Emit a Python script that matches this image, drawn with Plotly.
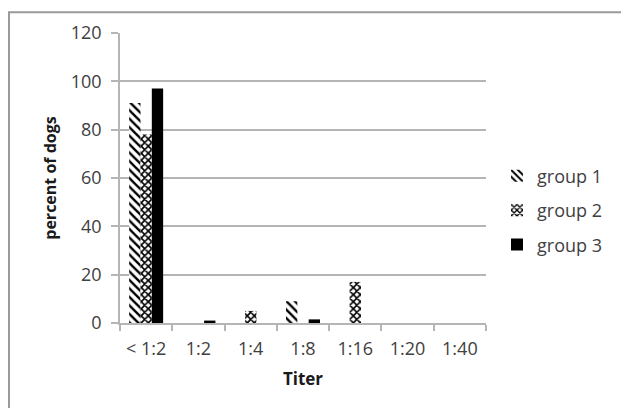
import plotly.graph_objects as go

categories = ["< 1:2", "1:2", "1:4", "1:8", "1:16", "1:20", "1:40"]
group1 = [91, 0, 0, 9, 0, 0, 0]
group2 = [78, 0, 5, 0, 17, 0, 0]
group3 = [97, 1, 0, 1.5, 0, 0, 0]
y_ticks = [0, 20, 40, 60, 80, 100, 120]

OFF = 8  # page body margin
W, H = 629 - OFF, 408 - OFF
# desired page-pixel positions of plot area
PL, PR, PT, PB = 120, 486, 29, 323
L, T = PL - OFF, PT - OFF
R, B = W - (PR - OFF), H - (PB - OFF)
pw, ph = W - L - R, H - T - B

def px2x(px):
    return (px - OFF - L) / pw

def py2y(py):
    return (H - B - (py - OFF)) / ph

FONT = "Open Sans"
fig = go.Figure()
fig.add_trace(go.Bar(
    x=categories, y=group1, name="group 1", legendgroup="g1",
    marker=dict(color="white", line=dict(width=0),
                pattern=dict(shape="\\", fgcolor="#000000", bgcolor="white",
                             fgopacity=1, size=6, solidity=0.4)),
))
fig.add_trace(go.Bar(
    x=categories, y=group2, name="group 2", legendgroup="g2",
    marker=dict(color="white", line=dict(width=0),
                pattern=dict(shape="x", fgcolor="#000000", bgcolor="white",
                             fgopacity=1, size=5, solidity=0.55)),
))
fig.add_trace(go.Bar(
    x=categories, y=group3, name="group 3", legendgroup="g3",
    marker=dict(color="black", line=dict(width=0)),
))

axis_gray = "#b5b5b5"
fig.update_layout(
    width=W, height=H,
    margin=dict(l=L, r=R, t=T, b=B, pad=0),
    paper_bgcolor="white", plot_bgcolor="white",
    barmode="group", bargap=0.35, bargroupgap=0,
    font=dict(family=FONT, size=18, color="#404040"),
    legend=dict(x=px2x(497), xanchor="left", y=py2y(209), yanchor="middle",
                font=dict(family=FONT, size=18, color="#404040"),
                tracegroupgap=8, bgcolor="rgba(0,0,0,0)"),
    showlegend=True,
    xaxis=dict(
        type="category", showline=True, linecolor=axis_gray, linewidth=1.5,
        ticks="outside", tickson="boundaries", ticklen=6, tickcolor=axis_gray,
        tickwidth=1.5, showgrid=False, ticklabelstandoff=9,
        tickfont=dict(family=FONT, size=18, color="#404040"),
        title=dict(text="<b>Titer</b>", standoff=14,
                   font=dict(family=FONT, size=17, color="#1a1a1a")),
    ),
    yaxis=dict(
        range=[0, 120], tickvals=y_ticks, showline=True, linecolor=axis_gray,
        linewidth=1.5, ticks="outside", ticklen=7, tickcolor=axis_gray,
        tickwidth=1.5, showgrid=True, gridcolor=axis_gray, gridwidth=1.5,
        zeroline=False, ticklabelstandoff=6,
        tickfont=dict(family=FONT, size=18, color="#404040"),
        title=dict(text="<b>percent of dogs</b>", standoff=10,
                   font=dict(family=FONT, size=16, color="#1a1a1a")),
    ),
    shapes=[dict(type="rect", xref="paper", yref="paper",
                 x0=px2x(9), x1=px2x(622), y0=py2y(430), y1=py2y(8),
                 line=dict(color="#9a9a9a", width=2), fillcolor="rgba(0,0,0,0)",
                 layer="below")],
)

fig.write_html("out.html")
